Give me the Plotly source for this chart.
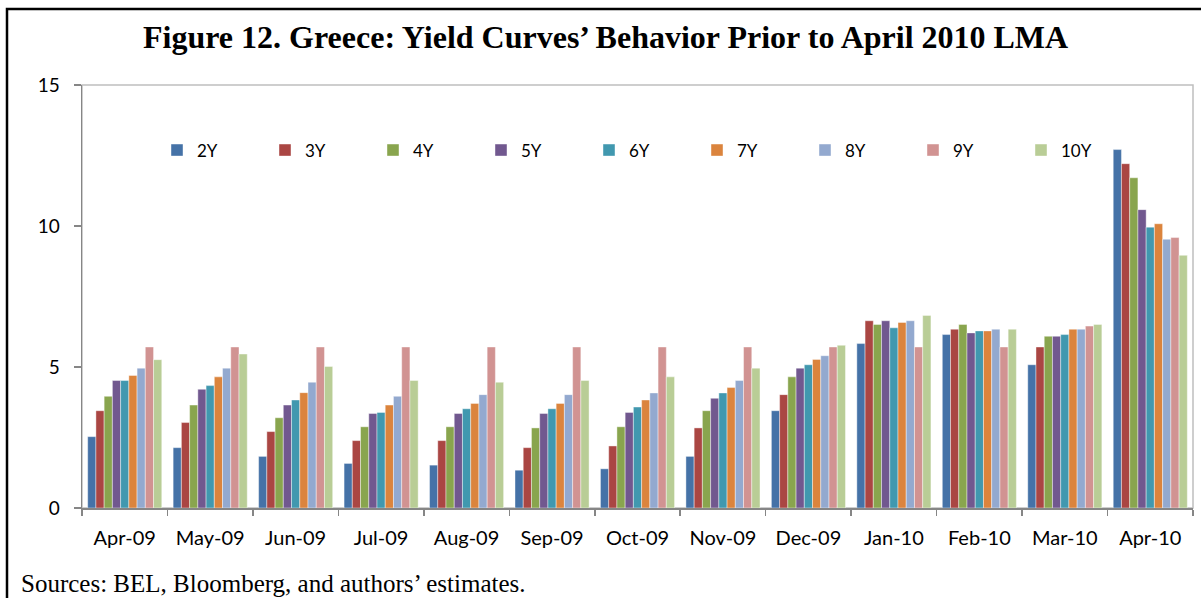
import plotly.graph_objects as go

months = ["Apr-09", "May-09", "Jun-09", "Jul-09", "Aug-09", "Sep-09", "Oct-09",
          "Nov-09", "Dec-09", "Jan-10", "Feb-10", "Mar-10", "Apr-10"]

y2 = [2.53, 2.14, 1.83, 1.58, 1.52, 1.34, 1.39, 1.83, 3.45, 5.83, 6.15, 5.08, 12.71]
y3 = [3.45, 3.03, 2.71, 2.39, 2.39, 2.14, 2.20, 2.84, 4.02, 6.64, 6.34, 5.71, 12.21]
y4 = [3.96, 3.65, 3.20, 2.88, 2.88, 2.84, 2.88, 3.45, 4.65, 6.51, 6.51, 6.09, 11.71]
y5 = [4.52, 4.21, 3.65, 3.35, 3.35, 3.35, 3.39, 3.89, 4.96, 6.64, 6.21, 6.09, 10.58]
y6 = [4.52, 4.34, 3.83, 3.39, 3.52, 3.52, 3.58, 4.08, 5.08, 6.39, 6.28, 6.15, 9.96]
y7 = [4.70, 4.65, 4.09, 3.65, 3.71, 3.71, 3.83, 4.27, 5.27, 6.58, 6.28, 6.34, 10.08]
y8 = [4.96, 4.96, 4.46, 3.96, 4.02, 4.02, 4.08, 4.52, 5.40, 6.64, 6.34, 6.34, 9.53]
y9 = [5.71, 5.71, 5.71, 5.71, 5.71, 5.71, 5.71, 5.71, 5.71, 5.71, 5.71, 6.45, 9.59]
y10 = [5.26, 5.46, 5.02, 4.52, 4.46, 4.52, 4.65, 4.96, 5.77, 6.83, 6.34, 6.51, 8.96]

series_names = ["2Y", "3Y", "4Y", "5Y", "6Y", "7Y", "8Y", "9Y", "10Y"]
series_values = [y2, y3, y4, y5, y6, y7, y8, y9, y10]
colors = ["#4572A7", "#AA4643", "#89A54E", "#71588F", "#4198AF",
          "#DB843D", "#93A9CF", "#D19392", "#B9CD96"]

fig = go.Figure()
for name, vals, col in zip(series_names, series_values, colors):
    fig.add_trace(go.Bar(
        x=months, y=vals, name=name,
        marker=dict(color=col, line=dict(color="rgba(255,255,255,0.7)", width=0.6)),
    ))

L, R, T, B = 82, 8, 85, 90
W, H = 1201, 598
pw = W - L - R
ph = H - T - B

def px_x(px):
    return (px - L) / pw

def px_y(py):
    return (H - B - py) / ph

fig.update_layout(
    width=W, height=H,
    margin=dict(l=L, r=R, t=T, b=B),
    paper_bgcolor="white", plot_bgcolor="white",
    barmode="group", bargap=0.133, bargroupgap=0,
    hovermode=False,
    font=dict(family="Lato", size=19, color="black"),
    showlegend=True,
    legend=dict(
        orientation="h", x=px_x(157), xanchor="left",
        y=px_y(150.5), yanchor="middle",
        font=dict(family="Lato", size=17, color="black"),
        entrywidth=63, entrywidthmode="pixels",
        bgcolor="rgba(0,0,0,0)", traceorder="normal",
    ),
    xaxis=dict(
        showline=True, linecolor="#868686", linewidth=1.5,
        ticks="outside", ticklen=6, tickcolor="#868686", tickwidth=1.5,
        tickson="boundaries", showgrid=False, zeroline=False,
        tickfont=dict(family="Lato", size=20), ticklabelstandoff=11,
    ),
    yaxis=dict(
        range=[0, 15], dtick=5, tick0=0,
        showline=True, linecolor="#868686", linewidth=1.5,
        ticks="outside", ticklen=7, tickcolor="#868686", tickwidth=1.5,
        showgrid=False, zeroline=False,
        tickfont=dict(family="Lato", size=19), ticklabelstandoff=10,
    ),
    shapes=[
        dict(type="rect", xref="paper", yref="paper", x0=0, x1=1, y0=0, y1=1,
             line=dict(color="#BFBFBF", width=1.5), layer="below"),
        dict(type="rect", xref="paper", yref="paper",
             x0=px_x(7), x1=px_x(1210), y0=px_y(612), y1=px_y(9),
             line=dict(color="black", width=2.5), layer="above"),
    ],
    annotations=[
        dict(text="<b>Figure 12. Greece: Yield Curves’ Behavior Prior to April 2010 LMA</b>",
             xref="paper", yref="paper", x=px_x(605.5), y=px_y(37),
             xanchor="center", yanchor="middle", showarrow=False,
             font=dict(family="Liberation Serif", size=32, color="black")),
        dict(text="Sources: BEL, Bloomberg, and authors’ estimates.",
             xref="paper", yref="paper", x=px_x(19), y=px_y(583),
             xanchor="left", yanchor="middle", showarrow=False,
             font=dict(family="Liberation Serif", size=25, color="black")),
    ],
)

fig.write_html("out.html",
               config={"displayModeBar": False, "staticPlot": True},
               post_script="document.body.style.margin='0';document.body.style.padding='0';")
